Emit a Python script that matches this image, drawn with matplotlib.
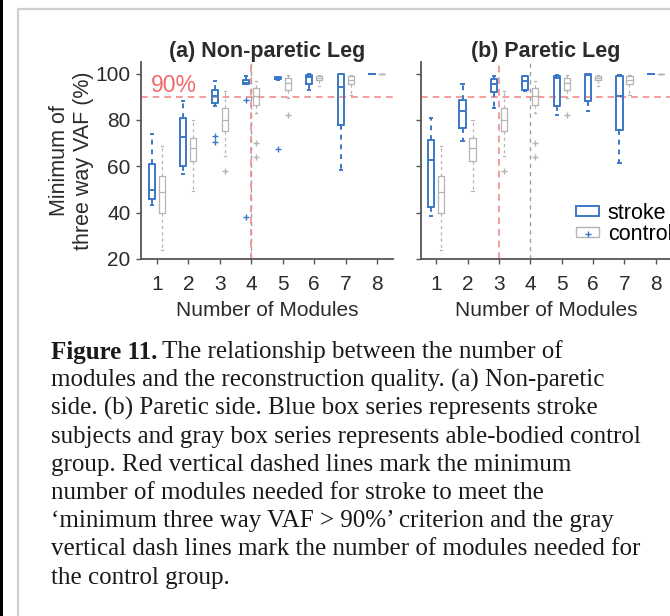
import matplotlib
matplotlib.use("Agg")
import matplotlib.pyplot as plt
from matplotlib.patches import Rectangle, Patch
from matplotlib.lines import Line2D

modules = [1, 2, 3, 4, 5, 6, 7, 8]

# stroke subjects, non-paretic leg (a)
stroke_a_med = [49.9, 72.7, 90.5, 96.0, 98.0, 98.4, 94.3, 100]
stroke_a_q1 = [45.9, 60.0, 87.1, 95.3, 97.5, 95.3, 78.0, 100]
stroke_a_q3 = [61.2, 80.9, 93.1, 97.4, 98.5, 99.3, 99.9, 100]
stroke_a_lo = [43.5, 56.8, 86.0, 95.3, 97.3, 92.8, 58.6, 100]
stroke_a_hi = [74.1, 88.1, 96.7, 98.9, 98.6, 99.7, 100, 100]
stroke_a_out = [[], [], [73.2, 70.4], [88.4, 38.1], [67.5], [], [], []]

# stroke subjects, paretic leg (b)
stroke_b_med = [62.9, 83.7, 95.3, 96.7, 98.1, 99.6, 90.2, 100]
stroke_b_q1 = [42.4, 76.6, 92.0, 92.8, 85.9, 88.1, 75.8, 100]
stroke_b_q3 = [71.2, 88.8, 97.7, 98.9, 98.9, 99.9, 98.9, 100]
stroke_b_lo = [38.4, 70.8, 85.2, 92.5, 82.3, 83.7, 61.4, 100]
stroke_b_hi = [80.9, 95.3, 98.9, 99.1, 99.6, 100, 99.6, 100]
stroke_b_out = [[], [], [], [], [], [], [], []]

# able-bodied control group (same in both panels)
control_med = [48.8, 67.9, 80.1, 90.2, 96.0, 98.0, 97.4, 100]
control_q1 = [39.9, 62.2, 75.1, 86.6, 92.8, 97.1, 95.3, 100]
control_q3 = [56.0, 72.2, 85.2, 93.8, 98.1, 98.9, 98.9, 100]
control_lo = [24.0, 49.2, 64.3, 83.0, 89.5, 94.5, 90.9, 100]
control_hi = [68.6, 80.1, 92.4, 96.7, 99.6, 99.3, 99.6, 100]
control_out = [[], [], [57.8], [70.1, 64.0], [82.3], [], [], []]

titles = ["(a) Non-paretic Leg", "(b) Paretic Leg"]
stroke_needed = [4, 3]
control_needed = [4, 4]
threshold = 90

caption_lines = [
    "modules and the reconstruction quality. (a) Non-paretic",
    "side. (b) Paretic side. Blue box series represents stroke",
    "subjects and gray box series represents able-bodied control",
    "group. Red vertical dashed lines mark the minimum",
    "number of modules needed for stroke to meet the",
    "\u2018minimum three way VAF > 90%\u2019 criterion and the gray",
    "vertical dash lines mark the number of modules needed for",
    "the control group.",
]

BLUE = "#3a78c6"
GRAY = "#b5b5b5"
RED = "#f28b8b"
TXT = "#2b2b2b"
FS = 15

plt.rcParams['font.family'] = ['Liberation Sans', 'DejaVu Sans']


def make_stats(med, q1, q3, lo, hi, out):
    stats = []
    for i in range(len(med)):
        stats.append(dict(med=med[i], q1=q1[i], q3=q3[i], whislo=lo[i],
                          whishi=hi[i], fliers=out[i]))
    return stats


def draw_boxes(ax, stats, offset, color, lw):
    pos = [m + offset for m in modules]
    ax.bxp(stats, positions=pos, widths=0.2, showfliers=True, capwidths=0.07,
           boxprops=dict(color=color, linewidth=lw),
           medianprops=dict(color=color, linewidth=lw),
           whiskerprops=dict(color=color, linewidth=lw, linestyle=(0, (2.5, 2.5))),
           capprops=dict(color=color, linewidth=lw),
           flierprops=dict(marker='+', markeredgecolor=color, markersize=4,
                           markeredgewidth=1.0, linestyle='none'))


fig = plt.figure(figsize=(6.70, 6.16), dpi=100)

# screenshot frame
fig.patches.append(Rectangle((0, 0), 3 / 670, 1, transform=fig.transFigure,
                             facecolor='black', edgecolor='none'))
fig.add_artist(Line2D([17.5 / 670, 17.5 / 670, 1], [0, 1 - 9 / 616, 1 - 9 / 616],
                      transform=fig.transFigure, color='#cfcfcf', linewidth=1.6))

axa = fig.add_axes([141 / 670, 357 / 616, 252 / 670, 197 / 616])
axb = fig.add_axes([420.5 / 670, 357 / 616, 251 / 670, 197 / 616])

panels = [
    (axa, make_stats(stroke_a_med, stroke_a_q1, stroke_a_q3, stroke_a_lo, stroke_a_hi, stroke_a_out)),
    (axb, make_stats(stroke_b_med, stroke_b_q1, stroke_b_q3, stroke_b_lo, stroke_b_hi, stroke_b_out)),
]
ctrl_stats = make_stats(control_med, control_q1, control_q3, control_lo, control_hi, control_out)

for i, (ax, sstats) in enumerate(panels):
    ax.axhline(threshold, color=RED, linewidth=1.2, linestyle=(0, (4, 3)), zorder=1)
    ax.axvline(control_needed[i], color='#a0a0a0', linewidth=1.0, linestyle=(0, (3, 3)), zorder=1)
    ax.axvline(stroke_needed[i], color=RED, linewidth=1.2, linestyle=(0, (4, 3)), zorder=1.1)

    draw_boxes(ax, ctrl_stats, 0.16, GRAY, 0.9)
    draw_boxes(ax, sstats, -0.16, BLUE, 1.4)

    ax.set_xlim(0.5, 8.5)
    ax.set_ylim(20, 105)
    ax.set_xticks(modules)
    ax.set_xticklabels([str(m) for m in modules])
    ax.set_yticks([20, 40, 60, 80, 100])
    ax.set_title(titles[i], fontsize=15.5, fontweight='bold', color=TXT, pad=2)
    ax.set_xlabel("Number of Modules", fontsize=FS, color=TXT, labelpad=5)
    ax.spines['top'].set_visible(False)
    ax.spines['right'].set_visible(False)
    ax.spines['left'].set_color('#555555')
    ax.spines['bottom'].set_color('#555555')
    ax.spines['left'].set_linewidth(1.3)
    ax.spines['bottom'].set_linewidth(1.3)
    ax.tick_params(direction='out', length=3.5, width=1.0, color='#555555',
                   labelsize=FS, labelcolor=TXT)
    ax.tick_params(axis='x', pad=8)
    ax.tick_params(axis='y', pad=4)
    ax.set_facecolor('none')

axb.set_yticklabels([])
axa.set_ylabel("Minimum of\nthree way VAF (%)", fontsize=15.5, color=TXT,
               labelpad=1, linespacing=1.2)
axa.text(0.8, 100.0, "90%", fontsize=16.5, color='#f06a6a', va='top', ha='left')

leg_handles = [Patch(facecolor='white', edgecolor=BLUE, linewidth=1.4),
               (Patch(facecolor='white', edgecolor=GRAY, linewidth=1.0),
                Line2D([], [], marker='+', color=BLUE, markersize=4, linestyle='none'))]
axb.legend(leg_handles, ["stroke", "control"], loc='lower left',
           bbox_to_anchor=(0.57, 0.005), frameon=False, fontsize=15.5,
           handlelength=1.05, handleheight=0.35, handletextpad=0.4,
           labelspacing=0.0, borderpad=0.1)

# caption
cap_x = 51 / 670
cap_y0 = 1 - 352 / 616
cap_step = 28.2 / 616
cap_kw = dict(family=['Liberation Serif', 'DejaVu Serif'], fontsize=18,
              color='#1a1a1a', va='center', ha='left')
t_bold = fig.text(cap_x, cap_y0, "Figure 11.", fontweight='bold', **cap_kw)
fig.canvas.draw()
bb = t_bold.get_window_extent()
fig.text(bb.x1 / fig.bbox.width + 5 / 670, cap_y0,
         "The relationship between the number of", **cap_kw)
for k, line in enumerate(caption_lines):
    fig.text(cap_x, cap_y0 - (k + 1) * cap_step, line, **cap_kw)

fig.savefig("out.png", dpi=100)
